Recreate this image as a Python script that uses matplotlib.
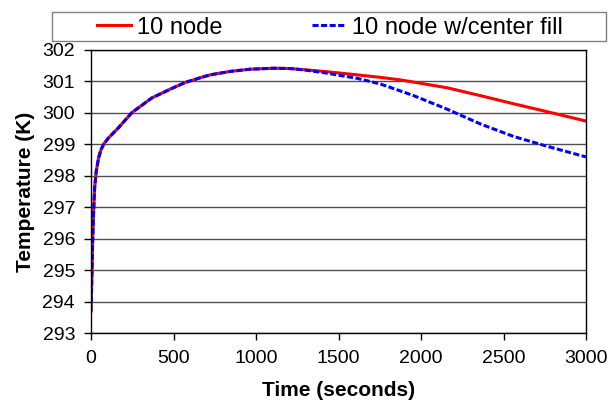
import matplotlib
matplotlib.use("Agg")
import matplotlib.pyplot as plt
from matplotlib.patches import Rectangle

plt.rcParams['font.family'] = ['Liberation Sans', 'DejaVu Sans']

t_red = [0, 6, 10, 16, 22, 32, 46, 60, 76, 107, 167, 248, 370, 491, 572, 683, 723, 845, 966,
         1107, 1209, 1410, 1612, 1753, 1874, 1955, 2157, 2359, 2561, 2763, 3000]
T_red = [293.69, 294.96, 295.92, 296.87, 297.62, 298.15, 298.57, 298.82, 299.0, 299.21, 299.53,
         300.01, 300.48, 300.78, 300.97, 301.15, 301.21, 301.32, 301.39, 301.42, 301.41,
         301.32, 301.21, 301.13, 301.05, 300.98, 300.80, 300.55, 300.29, 300.04, 299.74]

t_blue = [0, 6, 10, 16, 22, 32, 46, 60, 76, 107, 167, 248, 370, 491, 572, 683, 723, 845, 966,
          1107, 1209, 1300, 1410, 1512, 1612, 1753, 1874, 1955, 2157, 2359, 2561, 2763, 3000]
T_blue = [293.69, 294.96, 295.92, 296.87, 297.62, 298.15, 298.57, 298.82, 299.0, 299.21, 299.53,
          300.01, 300.48, 300.78, 300.97, 301.15, 301.21, 301.32, 301.39, 301.42, 301.41,
          301.36, 301.28, 301.19, 301.10, 300.92, 300.70, 300.55, 300.12, 299.65, 299.25,
          298.94, 298.6]

labels = ["10 node", "10 node w/center fill"]
x_ticks = [0, 500, 1000, 1500, 2000, 2500, 3000]
y_ticks = [293, 294, 295, 296, 297, 298, 299, 300, 301, 302]

W, H = 609, 404
fig = plt.figure(figsize=(W / 100, H / 100), dpi=100)
ax = fig.add_axes([91 / W, 1 - 333 / H, (586 - 91) / W, (333 - 50) / H])

l_red, = ax.plot(t_red, T_red, color='#ff0000', lw=2.2, solid_joinstyle='round')
l_blue, = ax.plot(t_blue, T_blue, color='#0000ff', lw=2.2, ls=(0, (2, 0.8)))

ax.set_xlim(0, 3000)
ax.set_ylim(293, 302)
ax.set_xticks(x_ticks)
ax.set_yticks(y_ticks)
ax.grid(axis='y', color='#505050', lw=1)
ax.set_axisbelow(True)
for s in ax.spines.values():
    s.set_color('black')
    s.set_linewidth(1)
ax.tick_params(direction='out', length=5, width=1, labelsize=14, colors='black')
ax.tick_params(axis='x', pad=7.5)
ax.tick_params(axis='y', pad=6.5)
ax.set_xlabel("Time (seconds)", fontsize=15, fontweight='bold', labelpad=9.5)
ax.set_ylabel("Temperature (K)", fontsize=15, fontweight='bold', labelpad=5)

# legend frame
fig.patches.append(Rectangle((52 / W, 1 - 41 / H), 554 / W, 29 / H, transform=fig.transFigure,
                             facecolor='white', edgecolor='#808080', lw=1, zorder=0))
yc = 1 - 27.5 / H
for line, lab, x0 in [(l_red, labels[0], 97), (l_blue, labels[1], 312)]:
    fig.legend([line], [lab], loc='center left', bbox_to_anchor=(x0 / W, yc),
               frameon=False, fontsize=17, handlelength=1.44, handletextpad=0.25,
               borderpad=0, borderaxespad=0)

fig.savefig("out.png", dpi=100)
